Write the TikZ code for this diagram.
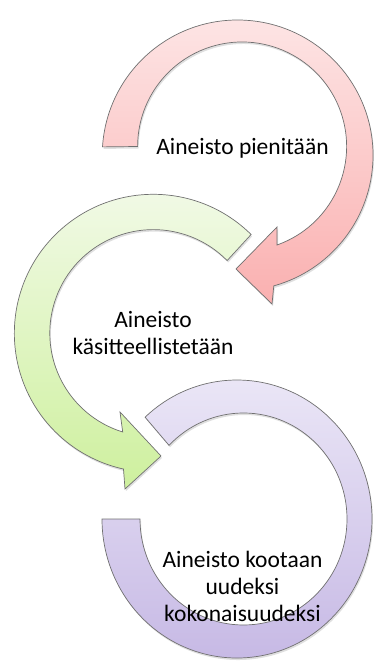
\documentclass[tikz,border=0pt]{standalone}
\usepackage{fontspec}
\setmainfont{Carlito}
\usetikzlibrary{shadows}

\definecolor{ringline}{RGB}{112,112,112}
\definecolor{redtop}{RGB}{253,229,229}
\definecolor{redbot}{RGB}{250,176,176}
\definecolor{greentop}{RGB}{242,250,232}
\definecolor{greenbot}{RGB}{206,240,158}
\definecolor{purpletop}{RGB}{236,232,247}
\definecolor{purplebot}{RGB}{197,183,228}

\begin{document}
\begin{tikzpicture}[x=1pt,y=1pt,
        ring/.style={draw=ringline,line width=0.7pt,
            drop shadow={shadow xshift=1pt,shadow yshift=-2pt,opacity=0.25}},
        lbl/.style={font=\fontsize{23.5}{27}\selectfont,align=center,inner sep=0pt}]

        \useasboundingbox (0,0) rectangle (374,662);

        % red arrow, top
        \draw[ring,top color=redtop,bottom color=redbot]
            (102.5,515.1) arc[start angle=176.4,end angle=-74.5,radius=135.4]
            -- (272,358) -- (236,393) -- (277,435) -- (277,417)
            arc[start angle=-70.5,end angle=180,radius=104.5] -- cycle;

        % green arrow, middle
        \draw[ring,top color=greentop,bottom color=greenbot]
            (251.1,427.5) arc[start angle=45.3,end angle=257.6,radius=139]
            -- (125,173) -- (161,206) -- (120,250) -- (122.7,230)
            arc[start angle=252.8,end angle=44.5,radius=103.5] -- cycle;

        % purple ring, bottom
        \draw[ring,top color=purpletop,bottom color=purplebot]
            (145.1,244.8) arc[start angle=132.9,end angle=-180,x radius=135,y radius=139]
            -- (140,143)
            arc[start angle=-180,end angle=136,x radius=103.5,y radius=106] -- cycle;

        % base = last line
        \node[lbl,anchor=base] (pienita) at (242.5,507) {Aineisto pienitään};
        \node[lbl,anchor=base] (kasite) at (153,307) {Aineisto\\käsitteellistetään};
        \node[lbl,anchor=base] (koota) at (242.5,40.5) {Aineisto kootaan\\uudeksi\\kokonaisuudeksi};

    \end{tikzpicture}
\end{document}
